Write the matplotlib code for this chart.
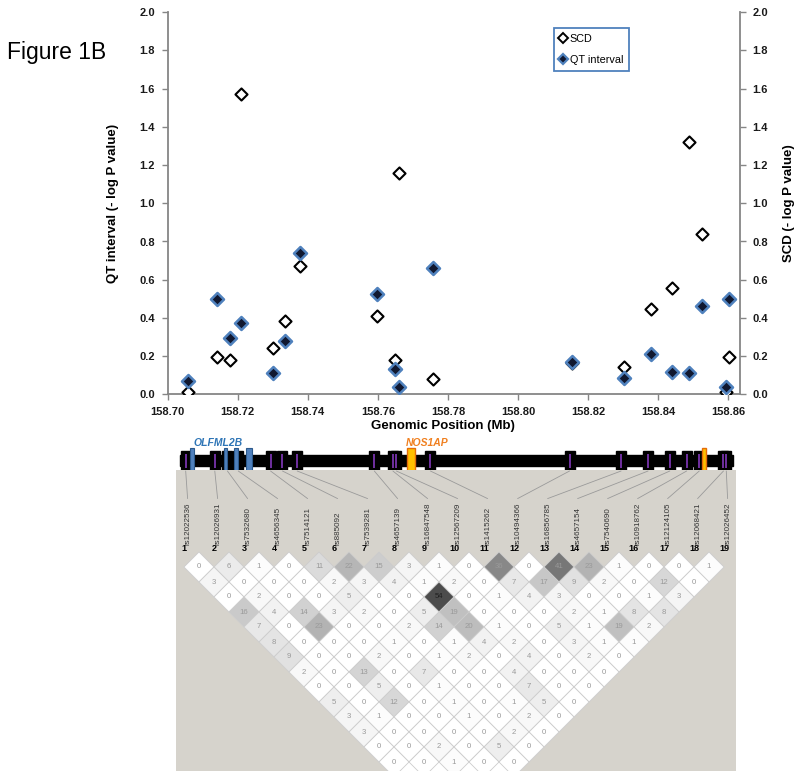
import numpy as np
import matplotlib
matplotlib.use("Agg")
import matplotlib.pyplot as plt
from matplotlib.patches import Rectangle, Polygon, ConnectionPatch
from matplotlib.lines import Line2D

# SNP positions (Mb) and association values (-log P)
pos = [158.7059, 158.7142, 158.7178, 158.7209, 158.7301, 158.7335, 158.7377,
       158.7597, 158.7650, 158.7660, 158.7757, 158.8154, 158.8301, 158.8378,
       158.8440, 158.8488, 158.8524, 158.8593, 158.8601]
scd = [0.014, 0.194, 0.18, 1.571, 0.241, 0.385, 0.672, 0.41, 0.18, 1.157, 0.079,
       0.162, 0.141, 0.447, 0.555, 1.323, 0.839, 0.01, 0.194]
qt = [0.07, 0.499, 0.296, 0.372, 0.11, 0.279, 0.738, 0.524, 0.132, 0.04, 0.66,
      0.171, 0.087, 0.211, 0.118, 0.11, 0.464, 0.04, 0.499]
snps = ["rs12022536", "rs12026931", "rs7532680", "rs4656345", "rs7514121",
        "rs885092", "rs7539281", "rs4657139", "rs16847548", "rs12567209",
        "rs1415262", "rs10494366", "rs16856785", "rs4657154", "rs7540690",
        "rs10918762", "rs12124105", "rs12068421", "rs12026452"]

# gene features on the track (Mb)
track_span = (158.7043, 158.8621)
olfml2b_exons = [(158.7071, 158.7083), (158.7168, 158.7177),
                 (158.7197, 158.7208), (158.7231, 158.7248)]
nos1ap_exons = [(158.7690, 158.7712), (158.8533, 158.8544)]

# pairwise LD (r2 x 100), row r = pairs (i, i+r); only the visible rows
ld_rows = [
    [0, 6, 1, 0, 11, 22, 15, 3, 1, 0, 36, 0, 41, 23, 1, 0, 0, 1],
    [3, 0, 0, 0, 2, 3, 4, 1, 2, 0, 7, 17, 9, 2, 0, 12, 0],
    [0, 2, 0, 0, 5, 0, 0, 54, 0, 1, 4, 3, 0, 0, 1, 3],
    [16, 4, 14, 3, 2, 0, 5, 19, 0, 0, 0, 2, 1, 8, 8],
    [7, 0, 23, 0, 0, 2, 14, 20, 1, 0, 5, 1, 19, 2],
    [8, 0, 0, 0, 1, 0, 1, 4, 2, 0, 3, 1, 1],
    [9, 0, 0, 2, 0, 1, 2, 0, 4, 0, 2, 0],
    [2, 0, 13, 0, 7, 0, 0, 4, 0, 0, 0],
    [0, 0, 5, 0, 1, 0, 0, 7, 0, 0],
    [5, 0, 12, 0, 1, 0, 1, 5, 0],
    [3, 1, 0, 0, 1, 0, 2, 0],
    [3, 0, 0, 0, 0, 2, 0],
    [0, 0, 2, 0, 5, 0],
    [0, 0, 1, 0, 0],
]

W, H = 800, 776
fig = plt.figure(figsize=(W / 100, H / 100), dpi=100)

def px_axes(l, t, r, b):
    return [l / W, 1 - b / H, (r - l) / W, (b - t) / H]

FONT = "Liberation Sans"
axcol = "#868686"

# ---- scatter panel
ax = fig.add_axes(px_axes(167.5, 12.3, 740, 394.3))
ax.scatter(pos, scd, marker="D", s=38, facecolor="white", edgecolor="black",
           linewidth=1.5, zorder=3, label="SCD")
ax.scatter(pos, qt, marker="D", s=44, facecolor="#101830", edgecolor="#4f81bd",
           linewidth=1.8, zorder=4, label="QT interval")
ax.set_xlim(158.70, 158.8633)
ax.set_ylim(0, 2.0)
xt = np.arange(158.70, 158.8601, 0.02)
ax.set_xticks(xt)
ax.set_xticklabels([f"{v:.2f}" for v in xt])
yt = np.arange(0, 2.01, 0.2)
ax.set_yticks(yt)
ax.set_yticklabels([f"{v:.1f}" for v in yt])
for s in ["top", "right"]:
    ax.spines[s].set_visible(False)
for s in ["left", "bottom"]:
    ax.spines[s].set_color(axcol)
    ax.spines[s].set_linewidth(1.3)
ax.tick_params(colors=axcol, length=4, width=1, labelcolor="#1a1a1a", pad=5)
for lab in ax.get_xticklabels() + ax.get_yticklabels():
    lab.set_fontfamily(FONT)
    lab.set_fontweight("bold")
    lab.set_fontsize(8)
ax.set_ylabel("QT interval (- log P value)", fontfamily=FONT, fontweight="bold",
              fontsize=9.5)
ax.yaxis.set_label_coords(-0.084, 0.5)
ax.set_xlabel("Genomic Position (Mb)", fontfamily=FONT, fontweight="bold",
              fontsize=9.5)
ax.xaxis.set_label_coords(0.481, -0.066)

ax2 = ax.twinx()
ax2.set_ylim(0, 2.0)
ax2.set_yticks(yt)
ax2.set_yticklabels([f"{v:.1f}" for v in yt])
for s in ["top", "left", "bottom"]:
    ax2.spines[s].set_visible(False)
ax2.spines["right"].set_color(axcol)
ax2.spines["right"].set_linewidth(1.3)
ax2.tick_params(colors=axcol, length=4, width=1, labelcolor="#1a1a1a", pad=5)
for lab in ax2.get_yticklabels():
    lab.set_fontfamily(FONT)
    lab.set_fontweight("bold")
    lab.set_fontsize(8)
ax2.set_ylabel("SCD (- log P value)", fontfamily=FONT, fontweight="bold",
               fontsize=9.5, rotation=90)
ax2.yaxis.set_label_coords(1.075, 0.5)

h = [Line2D([], [], ls="none", marker="D", ms=5.5, mfc="white", mec="black", mew=1.4),
     Line2D([], [], ls="none", marker="D", ms=5.5, mfc="#101830", mec="#4f81bd", mew=1.6)]
leg = ax2.legend(h, ["SCD", "QT interval"], loc="upper left",
                 bbox_to_anchor=(554 / W, 1 - 28 / H), bbox_transform=fig.transFigure,
                 fancybox=False, framealpha=1, edgecolor="#4f81bd",
                 prop={"family": FONT, "size": 7.8}, handlelength=0.6,
                 handletextpad=0.3, labelspacing=1.0, borderpad=0.55,
                 borderaxespad=0)
leg.get_frame().set_linewidth(1.3)

fig.text(7 / W, 1 - 41 / H, "Figure 1B", fontfamily="Liberation Sans",
         fontsize=16.5, va="top", ha="left")

# ---- gene track
tr = fig.add_axes(px_axes(165, 436, 737.5, 476))
tr.set_xlim(ax.get_xlim())
tr.set_ylim(476, 436)
tr.axis("off")
tr.add_patch(Rectangle((track_span[0], 455), track_span[1] - track_span[0], 11,
                       color="black", zorder=1))
sq = 10 / 3510.0
for p in pos:
    tr.add_patch(Rectangle((p - sq / 2, 451), sq, 20, color="black", zorder=2))
    tr.vlines(p, 454, 468, color="#7030a0", lw=1.4, zorder=3)
for a, b in olfml2b_exons:
    tr.add_patch(Rectangle((a, 448), b - a, 24, facecolor="#4f81bd",
                           edgecolor="#2c5a8c", lw=0.8, zorder=4))
for a, b in nos1ap_exons:
    tr.add_patch(Rectangle((a, 448), b - a, 24, facecolor="#ffc000",
                           edgecolor="#e46c0a", lw=1.0, zorder=4))
tr.text(158.7151, 442.5, "OLFML2B", color="#2e75b6", fontfamily=FONT,
        fontweight="bold", style="italic", fontsize=7.5, ha="center", va="center",
        clip_on=False)
tr.text(158.7749, 442.5, "NOS1AP", color="#f07f1e", fontfamily=FONT,
        fontweight="bold", style="italic", fontsize=7.5, ha="center", va="center",
        clip_on=False)

# ---- LD panel
ld = fig.add_axes(px_axes(176, 470, 736, 771))
ld.set_xlim(0.7333, 19.4)
ld.set_ylim((552 - 771) / 30.0, (552 - 470) / 30.0)
ld.axis("off")
ld.add_patch(Rectangle((0, 0), 1, 1, transform=ld.transAxes, color="#d6d3cc",
                       zorder=0))
n = len(snps)
ld.add_patch(Polygon([(1, -0.5), ((1 + n) / 2, -0.5 - (n - 1) / 2), (n, -0.5)],
                     closed=True, facecolor="white", edgecolor="none", zorder=1))
for r, row in enumerate(ld_rows, start=1):
    for k, v in enumerate(row):
        cx = 1 + k + r / 2.0
        cy = -r / 2.0
        g = max(0.0, 1 - 1.3 * v / 100.0)
        ld.add_patch(Polygon([(cx - 0.5, cy), (cx, cy + 0.5), (cx + 0.5, cy),
                              (cx, cy - 0.5)], closed=True,
                             facecolor=(g, g, g), edgecolor="#cccccc", lw=0.6,
                             zorder=2))
        ld.text(cx, cy, str(v), ha="center", va="center", fontsize=5.6,
                fontfamily="Liberation Sans",
                color="#202020" if v >= 50 else "#9a9a9a", zorder=3)

for i, name in enumerate(snps, start=1):
    ld.text(i, 0.13, str(i), ha="center", va="center", fontsize=6.5,
            fontweight="bold", fontfamily="Liberation Sans", zorder=3)
    ld.text(i + 0.12, 0.23, name, rotation=90, ha="center", va="bottom",
            fontsize=5.8, fontfamily="Liberation Sans", color="#333333", zorder=3)
    con = ConnectionPatch(xyA=(pos[i - 1], 471), coordsA=tr.transData,
                          xyB=(i + 0.12, 1.78), coordsB=ld.transData,
                          color="#9a9a9a", lw=0.6, zorder=5)
    fig.add_artist(con)

fig.savefig("out.png", dpi=100)
